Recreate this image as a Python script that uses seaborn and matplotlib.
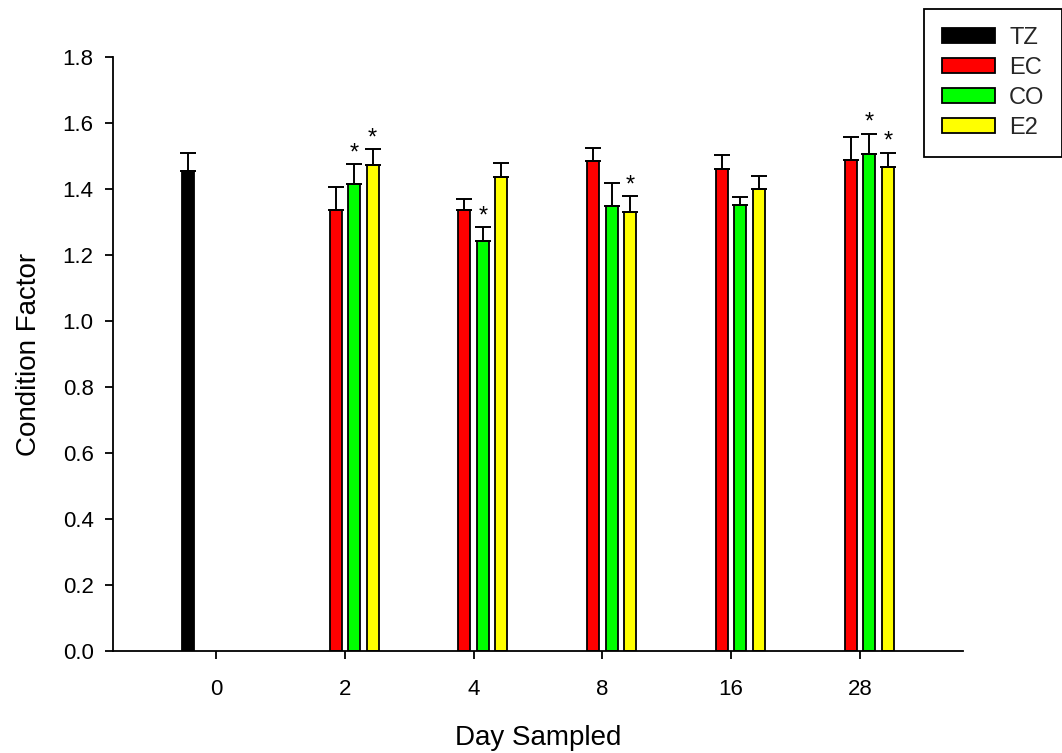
import matplotlib
matplotlib.use("Agg")
import matplotlib.pyplot as plt
from matplotlib.patches import Patch
import numpy as np
import pandas as pd
import seaborn as sns

# ---- data ----
days = ["0", "2", "4", "8", "16", "28"]
groups = ["TZ", "EC", "CO", "E2"]
colors = ["#000000", "#FF0000", "#00FF00", "#FFFF00"]

tz_days = ["0"]
tz_mean = [1.455]
tz_err = [0.055]

trt_days = ["2", "4", "8", "16", "28"]
ec_mean = [1.336, 1.336, 1.485, 1.461, 1.488]
ec_err = [0.070, 0.034, 0.040, 0.041, 0.070]
co_mean = [1.415, 1.242, 1.348, 1.353, 1.506]
co_err = [0.060, 0.043, 0.071, 0.024, 0.061]
e2_mean = [1.472, 1.437, 1.331, 1.401, 1.468]
e2_err = [0.048, 0.043, 0.048, 0.038, 0.042]
ec_sig = [0, 0, 0, 0, 0]
co_sig = [1, 1, 0, 0, 1]
e2_sig = [1, 0, 1, 0, 1]

rows = []
for d, m, e in zip(tz_days, tz_mean, tz_err):
    rows.append(("TZ", d, m, e, 0))
for g, means, errs, sigs in [("EC", ec_mean, ec_err, ec_sig),
                             ("CO", co_mean, co_err, co_sig),
                             ("E2", e2_mean, e2_err, e2_sig)]:
    for d, m, e, s in zip(trt_days, means, errs, sigs):
        rows.append((g, d, m, e, s))
df = pd.DataFrame(rows, columns=["group", "day", "value", "err", "sig"])

# ---- style ----
sns.set_theme(style="white")
plt.rcParams["font.family"] = ["Liberation Sans", "DejaVu Sans"]

fig = plt.figure(figsize=(10.62, 7.53), dpi=100)
ax = fig.add_axes([113 / 1062, 1 - 651 / 753, (963 - 113) / 1062, (651 - 57) / 753])

sns.barplot(data=df, x="day", y="value", hue="group", order=days, hue_order=groups,
            palette=colors, width=0.575, gap=0.35, errorbar=None,
            edgecolor="black", linewidth=1.3, saturation=1, legend=False, ax=ax)

# error bars (upper only) and significance stars
lookup = {(r.group, r.day): (r.err, r.sig) for r in df.itertuples()}
for level, cont in zip(groups, ax.containers):
    for bar in cont:
        h = bar.get_height()
        if not np.isfinite(h) or h == 0:
            continue
        cx = bar.get_x() + bar.get_width() / 2
        day = days[int(round(cx))]
        if (level, day) not in lookup:
            continue
        e, s = lookup[(level, day)]
        ax.errorbar([cx], [h], yerr=[[0], [e]], fmt="none", ecolor="black",
                    elinewidth=1.4, capsize=6, capthick=1.4, zorder=3)
        if s:
            ax.annotate("*", xy=(cx, h + e), xytext=(0, 3.5), textcoords="offset points",
                        ha="center", va="baseline", fontsize=17, color="black")

ax.set_xlim(-0.8, 5.8)
ax.set_ylim(0, 1.8)
ax.set_yticks(np.arange(0, 1.81, 0.2))
ax.set_yticklabels([f"{v:.1f}" for v in np.arange(0, 1.81, 0.2)])

ax.set_xlabel("Day Sampled", fontsize=20, color="black", labelpad=18)
ax.set_ylabel("Condition Factor", fontsize=20, color="black", labelpad=15)

for side in ["top", "right"]:
    ax.spines[side].set_visible(False)
for side in ["left", "bottom"]:
    ax.spines[side].set_color("black")
    ax.spines[side].set_linewidth(1.3)

ax.tick_params(axis="both", which="major", bottom=True, left=True, direction="out",
               length=6, width=1.3, colors="black", labelsize=16, pad=8)
ax.tick_params(axis="x", pad=14)

handles = [Patch(facecolor=c, edgecolor="black", linewidth=1.3, label=g)
           for g, c in zip(groups, colors)]
leg = ax.legend(handles=handles, loc="upper left",
                bbox_to_anchor=(924 / 1062, 1 - 9 / 753), bbox_transform=fig.transFigure,
                fontsize=17, handlelength=2.25, handleheight=0.65, handletextpad=0.6,
                labelspacing=0.34, borderpad=0.75, borderaxespad=0, frameon=True,
                fancybox=False, edgecolor="black", framealpha=1)
leg.get_frame().set_linewidth(1.3)

fig.savefig("out.png", dpi=100)
